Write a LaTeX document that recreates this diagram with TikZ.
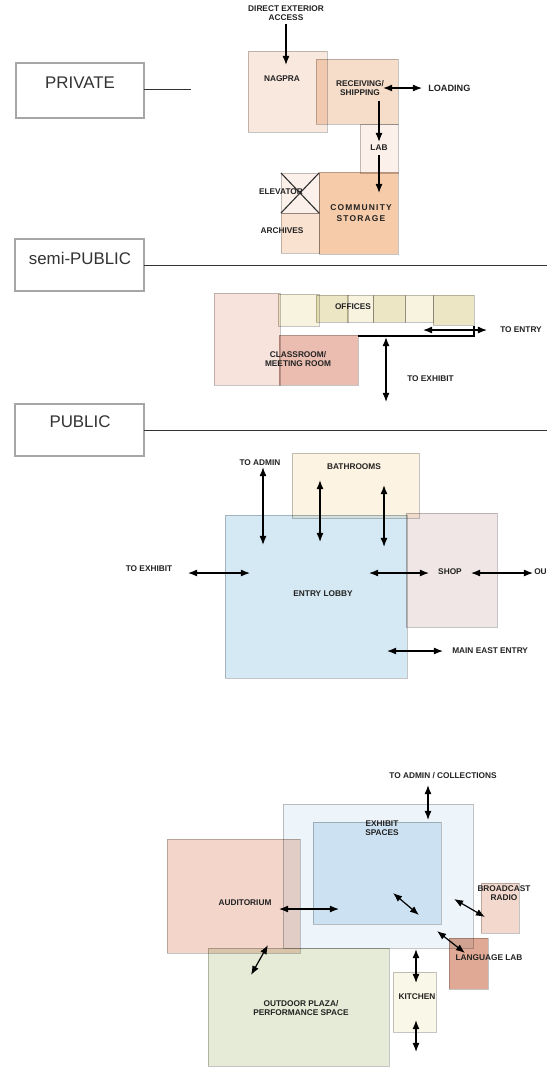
\documentclass[tikz,border=0pt]{standalone}
\usepackage{fontspec}
\setmainfont{Liberation Sans}
\usepackage{xcolor}
\usepackage{tikz}
\usetikzlibrary{arrows.meta}

% colours of the rooms
\definecolor{roomedge}{HTML}{C4C4C4}
\definecolor{zoneedge}{HTML}{A6A6A6}
\definecolor{inktext}{HTML}{222222}
\definecolor{zonetext}{HTML}{333333}
\definecolor{nagpracol}{HTML}{F9E8DE}
\definecolor{recvcol}{HTML}{F6DDCA}
\definecolor{labcol}{HTML}{FCF0EA}
\definecolor{archcol}{HTML}{F9E2D0}
\definecolor{storecol}{HTML}{F5CBA9}
\definecolor{semicol}{HTML}{F7E3DC}
\definecolor{offlight}{HTML}{F7F3DE}
\definecolor{offdark}{HTML}{ECE6C5}
\definecolor{classcol}{HTML}{EBBDB0}
\definecolor{bathcol}{HTML}{FDF3E2}
\definecolor{lobbycol}{HTML}{D4E9F4}
\definecolor{shopcol}{HTML}{F0E6E5}
\definecolor{exhoutcol}{HTML}{EDF5FB}
\definecolor{exhincol}{HTML}{DCECF6}
\definecolor{audcol}{HTML}{F3D5CA}
\definecolor{plazacol}{HTML}{E5EBD6}
\definecolor{radiocol}{HTML}{F3D9CD}
\definecolor{langcol}{HTML}{E0A995}
\definecolor{kitchcol}{HTML}{F9F7E7}

\tikzset{
  room/.style={draw=roomedge, line width=0.5pt},
  lbl/.style={font=\fontsize{5.9}{6.6}\selectfont\bfseries, text=inktext, align=center, inner sep=0pt},
  zonebox/.style={draw=zoneedge, line width=0.8pt, fill=white},
  zonelbl/.style={font=\fontsize{12}{14}\selectfont, text=zonetext, inner sep=0pt},
  zoneline/.style={draw=zonetext, line width=0.7pt},
  arr/.style={draw=black, line width=0.85pt, {Latex[length=6.5pt,width=5pt]}-{Latex[length=6.5pt,width=5pt]}},
  arrone/.style={draw=black, line width=0.85pt, -{Latex[length=6.5pt,width=5pt]}},
}

\begin{document}
\begin{tikzpicture}[x=0.025cm, y=-0.025cm]
  \useasboundingbox (0,0) rectangle (547,1067);

  % ---------- zone labels ----------
  \draw [zonebox] (16,63) rectangle (144,118);
  \node [zonelbl] (private) at (80,83) {PRIVATE};
  \draw [zoneline] (144,89) -- (191,89);

  \draw [zonebox] (15,239) rectangle (144,291);
  \node [zonelbl] (semipublic) at (80,258) {semi-PUBLIC};
  \draw [zoneline] (144,265) -- (547,265);

  \draw [zonebox] (15,404) rectangle (144,456);
  \node [zonelbl] (public) at (80,422) {PUBLIC};
  \draw [zoneline] (144,430) -- (547,430);

  % ---------- rooms (multiplied so overlaps darken) ----------
  \begin{scope}[blend mode=multiply]
    % private
    \fill [room, fill=nagpracol] (248,51) rectangle (327,132);
    \fill [room, fill=recvcol] (316,59) rectangle (398,124);
    \fill [room, fill=labcol] (360,124) rectangle (398,173);
    \fill [room, fill=labcol] (281,173) rectangle (319,213);
    \fill [room, fill=archcol] (281,213) rectangle (319,253);
    \fill [room, fill=storecol] (319,172) rectangle (398,254);

    % semi-public
    \fill [room, fill=semicol] (214,293) rectangle (280,385);
    \fill [room, fill=offlight] (278,294) rectangle (319,326);
    \fill [room, fill=offdark] (316,295) rectangle (348,322);
    \fill [room, fill=offlight] (347,295) rectangle (373,322);
    \fill [room, fill=offdark] (373,295) rectangle (405,322);
    \fill [room, fill=offlight] (405,295) rectangle (433,322);
    \fill [room, fill=offdark] (433,295) rectangle (474,325);
    \fill [room, fill=classcol] (279,335) rectangle (358,385);

    % public
    \fill [room, fill=bathcol] (292,453) rectangle (419,518);
    \fill [room, fill=lobbycol] (225,515) rectangle (407,678);
    \fill [room, fill=shopcol] (406,513) rectangle (497,627);

    % exhibit
    \fill [room, fill=exhoutcol] (283,804) rectangle (473,948);
    \fill [room, fill=exhincol] (313,822) rectangle (441,924);
    \fill [room, fill=plazacol] (208,948) rectangle (389,1066);
    \fill [room, fill=audcol] (167,839) rectangle (300,953);
    \fill [room, fill=radiocol] (481,883) rectangle (519,933);
    \fill [room, fill=langcol] (449,938) rectangle (488,989);
    \fill [room, fill=kitchcol] (393,972) rectangle (436,1032);
  \end{scope}

  % Elevator cross
  \draw [line width=0.8pt, zonetext] (281,173) -- (319,213);
  \draw [line width=0.8pt, zonetext] (281,213) -- (319,173);

  % ---------- private labels and arrows ----------
  \node [lbl] (direct) at (286,13) {DIRECT EXTERIOR\\ACCESS};
  \node [lbl] (nagpra) at (282,79) {NAGPRA};
  \node [lbl] (receiving) at (360,88) {RECEIVING/\\SHIPPING};
  \node [lbl, anchor=west, font=\fontsize{6.5}{7}\selectfont\bfseries] (loading) at (428,88) {LOADING};
  \node [lbl] (lab) at (379,148) {LAB};
  \node [lbl] (elevator) at (281,192) {ELEVATOR};
  \node [lbl] (archives) at (282,231) {ARCHIVES};
  \node [lbl, font=\fontsize{6}{7.5}\selectfont\bfseries\addfontfeature{LetterSpace=14}] (storage) at (361,213) {COMMUNITY\\STORAGE};

  \draw [arrone] (286,24) -- (286,65);
  \draw [arr] (383,88) -- (422,88);
  \draw [arrone] (379,101) -- (379,142);
  \draw [arrone] (379,155) -- (379,193);

  % ---------- semi-public labels and arrows ----------
  \node [lbl] (offices) at (353,307) {OFFICES};
  \node [lbl] (classroom) at (298,359) {CLASSROOM/\\MEETING ROOM};
  \node [lbl, anchor=west] (toentry) at (500,330) {TO ENTRY};
  \node [lbl, anchor=west] (toexhibitsemi) at (407,379) {TO EXHIBIT};

  \draw [line width=0.8pt] (358,336) -- (474,336) -- (474,326);
  \draw [arr] (423,330) -- (487,330);
  \draw [arr] (386,337) -- (386,402);

  % ---------- public labels and arrows ----------
  \node [lbl] (toadmin) at (260,463) {TO ADMIN};
  \node [lbl] (bathrooms) at (354,467) {BATHROOMS};
  \node [lbl] (lobby) at (323,594) {ENTRY LOBBY};
  \node [lbl] (shop) at (450,572) {SHOP};
  \node [lbl] (toexhibit) at (149,569) {TO EXHIBIT};
  \node [lbl, anchor=west] (out) at (534,572) {OU};
  \node [lbl, anchor=west] (mainentry) at (452,651) {MAIN EAST ENTRY};

  \draw [arr] (263,467) -- (263,545);
  \draw [arr] (320,480) -- (320,542);
  \draw [arr] (384,485) -- (384,547);
  \draw [arr] (188,573) -- (250,573);
  \draw [arr] (369,573) -- (429,573);
  \draw [arr] (471,573) -- (533,573);
  \draw [arr] (387,651) -- (443,651);

  % ---------- exhibit labels and arrows ----------
  \node [lbl] (tocollections) at (443,776) {TO ADMIN / COLLECTIONS};
  \node [lbl] (exhibit) at (382,828) {EXHIBIT\\SPACES};
  \node [lbl] (auditorium) at (245,903) {AUDITORIUM};
  \node [lbl] (plaza) at (301,1008) {OUTDOOR PLAZA/\\PERFORMANCE SPACE};
  \node [lbl] (radio) at (504,893) {BROADCAST\\RADIO};
  \node [lbl] (langlab) at (489,958) {LANGUAGE LAB};
  \node [lbl] (kitchen) at (417,997) {KITCHEN};

  \draw [arr] (428,785) -- (428,820);
  \draw [arr] (279,909) -- (339,909);
  \draw [arr] (393,893) -- (419,915);
  \draw [arr] (268,945) -- (251,975);
  \draw [arr] (454,899) -- (485,917);
  \draw [arr] (437,931) -- (465,953);
  \draw [arr] (416,949) -- (416,983);
  \draw [arr] (416,1020) -- (416,1052);
\end{tikzpicture}
\end{document}
